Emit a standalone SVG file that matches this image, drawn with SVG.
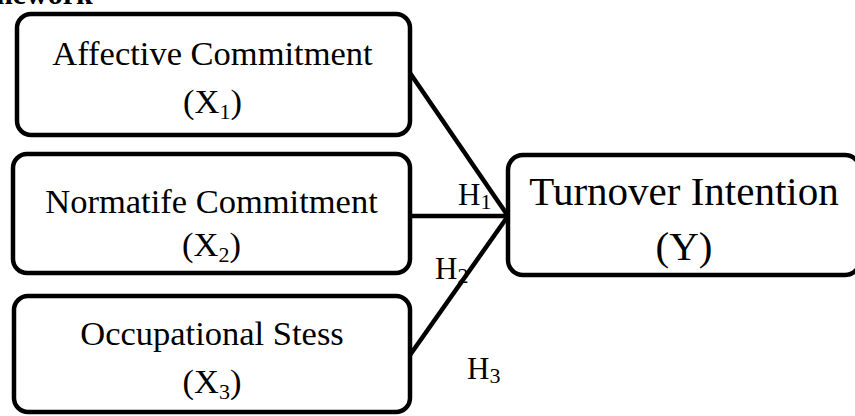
<svg xmlns="http://www.w3.org/2000/svg" width="855" height="416" viewBox="0 0 855 416">
<style>
.box{fill:#fff;stroke:#000;stroke-width:4.5}
.t{font-family:"Liberation Serif","Times New Roman",serif;font-size:34.5px;fill:#000;text-anchor:middle}
.ty{font-family:"Liberation Serif","Times New Roman",serif;font-size:41px;fill:#000;text-anchor:middle}
.h{font-family:"Liberation Serif","Times New Roman",serif;font-size:31px;fill:#000}
.sub{font-size:22px}
.ln{stroke:#000;stroke-width:4.5;fill:none}
.title{font-family:"Liberation Serif","Times New Roman",serif;font-size:30px;font-weight:bold;fill:#000}
</style>
<text class="title" x="-4" y="4">nework</text>
<g id="connectors">
<line class="ln" x1="410" y1="73" x2="508" y2="216"/>
<line class="ln" x1="410" y1="216" x2="508" y2="216"/>
<line class="ln" x1="410" y1="355" x2="508" y2="216"/>
<text class="h" x="458" y="205">H<tspan class="sub" dy="4">1</tspan></text>
<text class="h" x="435" y="279">H<tspan class="sub" dy="4">2</tspan></text>
<text class="h" x="467" y="379">H<tspan class="sub" dy="4">3</tspan></text>
</g>
<g id="x1">
<rect class="box" x="17" y="14" width="393" height="121" rx="14"/>
<text class="t" x="212.5" y="65">Affective Commitment</text>
<text class="t" x="212.5" y="113">(X<tspan class="sub" dy="6">1</tspan><tspan dy="-6">)</tspan></text>
</g>
<g id="x2">
<rect class="box" x="13" y="154" width="397" height="119" rx="14"/>
<text class="t" x="211.5" y="213">Normatife Commitment</text>
<text class="t" x="211.5" y="256">(X<tspan class="sub" dy="6">2</tspan><tspan dy="-6">)</tspan></text>
</g>
<g id="x3">
<rect class="box" x="14" y="296" width="396" height="116" rx="14"/>
<text class="t" x="212" y="345">Occupational Stess</text>
<text class="t" x="212" y="393">(X<tspan class="sub" dy="6">3</tspan><tspan dy="-6">)</tspan></text>
</g>
<g id="y">
<rect class="box" x="508" y="155" width="352" height="120" rx="15"/>
<text class="ty" x="684" y="205">Turnover Intention</text>
<text class="ty" x="684" y="260">(Y)</text>
</g>
</svg>
